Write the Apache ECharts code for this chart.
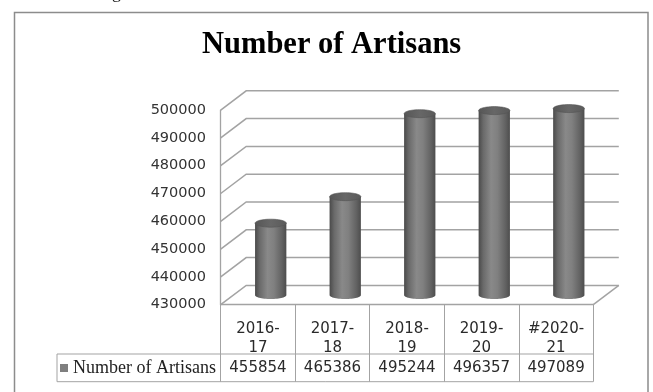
<!DOCTYPE html>
<html>
<head>
<meta charset="utf-8">
<script src="https://cdn.jsdelivr.net/npm/echarts@6/dist/echarts.min.js"></script>
<style>
html,body{margin:0;padding:0;background:#fff;}
#chart{width:653px;height:392px;}
</style>
</head>
<body>
<div id="chart"></div>
<script>
// ---- data ----
const titleText = "Number of Artisans";
const seriesName = "Number of Artisans";
const categories = ["2016-17", "2017-18", "2018-19", "2019-20", "#2020-21"];
const artisans = [455854, 465386, 495244, 496357, 497089];
const yTicks = [430000, 440000, 450000, 460000, 470000, 480000, 490000, 500000];
const yMin = 430000, yMax = 500000, yStep = 10000;

// ---- layout ----
const W = 653, H = 392;
const PLOT = { left: 220.7, right: 593.3, top: 110.1, bottom: 304.7 };
const DX = 25.5, DY = -19.3;          // depth offset of the back wall
const ROW_DIV = 354, TABLE_BOTTOM = 381.7, LEGEND_LEFT = 57;
const LINE_COLOR = '#a3a3a3';

function ellipseArc(cx, cy, rx, ry, a0, a1, n) {
  const pts = [];
  for (let k = 0; k <= n; k++) {
    const a = a0 + (a1 - a0) * k / n;
    pts.push([cx + rx * Math.cos(a), cy + ry * Math.sin(a)]);
  }
  return pts;
}

function renderWall(params, api) {
  const v = api.value(1);
  const p = api.coord([0, v]);
  const band = api.size([1, 0])[0];
  const xl = p[0] - band / 2;
  const xr = xl + band * categories.length;
  const children = [{
    type: 'polyline',
    shape: { points: [[xl, p[1]], [xl + DX, p[1] + DY], [xr + DX, p[1] + DY]] },
    style: { fill: null, stroke: LINE_COLOR, lineWidth: 1.5 }
  }];
  if (v === yMin) {
    children.push({
      type: 'line',
      shape: { x1: xr, y1: p[1], x2: xr + DX, y2: p[1] + DY },
      style: { stroke: LINE_COLOR, lineWidth: 1.5 }
    });
  }
  return { type: 'group', children: children };
}

function renderCylinder(params, api) {
  const i = api.value(0), v = api.value(1);
  const top = api.coord([i, v]);
  const base = api.coord([i, yMin]);
  const band = api.size([1, 0])[0];
  const cx = top[0] + DX / 2;
  const rx = band * 0.21, ry = 4;
  const yt = top[1] + DY / 2, yb = base[1] + DY / 2;
  const bodyPts = [[cx - rx, yt]].concat(ellipseArc(cx, yb, rx, ry, Math.PI, 0, 30)).concat([[cx + rx, yt]]);
  const topPts = ellipseArc(cx, yt, rx, ry, 0, Math.PI * 2, 48);
  return {
    type: 'group',
    children: [
      {
        type: 'polygon',
        shape: { points: bodyPts },
        style: {
          fill: {
            type: 'linear', x: 0, y: 0, x2: 1, y2: 0,
            colorStops: [
              { offset: 0, color: '#4a4a4a' },
              { offset: 0.15, color: '#6a6a6a' },
              { offset: 0.4, color: '#898989' },
              { offset: 0.6, color: '#808080' },
              { offset: 0.85, color: '#636363' },
              { offset: 1, color: '#4d4d4d' }
            ]
          },
          stroke: null
        }
      },
      {
        type: 'polygon',
        shape: { points: topPts },
        style: {
          fill: {
            type: 'linear', x: 0, y: 0, x2: 1, y2: 0,
            colorStops: [
              { offset: 0, color: '#565656' },
              { offset: 0.5, color: '#676767' },
              { offset: 1, color: '#5a5a5a' }
            ]
          },
          stroke: '#545454', lineWidth: 0.6
        }
      }
    ]
  };
}

function renderTableValue(params, api) {
  const i = api.value(0);
  const p = api.coord([i, yMin]);
  return {
    type: 'text',
    x: p[0],
    y: (ROW_DIV + TABLE_BOTTOM) / 2,
    style: {
      text: String(api.value(1)),
      align: 'center', verticalAlign: 'middle',
      fontFamily: 'DejaVu Sans', fontSize: 15, fill: '#2a2a2a'
    }
  };
}

const chart = echarts.init(document.getElementById('chart'), null, { renderer: 'canvas' });
chart.setOption({
  animation: false,
  backgroundColor: '#ffffff',
  title: {
    text: titleText,
    left: 202, top: 29.5, padding: 0,
    textStyle: { fontFamily: 'Liberation Serif', fontWeight: 'bold', fontSize: 30.5, color: '#000' }
  },
  legend: {
    data: [seriesName],
    left: 60, top: 359, padding: 0,
    icon: 'rect', itemWidth: 8, itemHeight: 8,
    selectedMode: false,
    textStyle: { fontFamily: 'Liberation Serif', fontSize: 18, color: '#222' }
  },
  grid: {
    left: PLOT.left, right: W - PLOT.right, top: PLOT.top, bottom: H - PLOT.bottom,
    containLabel: false
  },
  xAxis: {
    type: 'category',
    data: categories,
    boundaryGap: true,
    axisLine: { show: true, lineStyle: { color: LINE_COLOR, width: 1.3 } },
    axisTick: { show: true, length: TABLE_BOTTOM - PLOT.bottom, lineStyle: { color: LINE_COLOR, width: 1 } },
    axisLabel: {
      interval: 0,
      formatter: function (s) { return s.replace('-', '-\n'); },
      margin: 15, lineHeight: 19,
      fontFamily: 'DejaVu Sans', fontSize: 15, color: '#2a2a2a'
    },
    splitLine: { show: false }
  },
  yAxis: {
    type: 'value',
    min: yMin, max: yMax, interval: yStep,
    axisLine: { show: true, lineStyle: { color: LINE_COLOR, width: 1.3 } },
    axisTick: { show: false },
    splitLine: { show: false },
    axisLabel: {
      margin: 14.7,
      formatter: function (v) { return yTicks.indexOf(v) >= 0 ? String(v) : ''; },
      fontFamily: 'DejaVu Sans', fontSize: 14.5, color: '#333'
    }
  },
  series: [
    {
      type: 'custom', name: 'wall', silent: true, clip: false, z: 1,
      renderItem: renderWall,
      data: yTicks.map(function (v) { return [0, v]; })
    },
    {
      type: 'custom', name: seriesName, silent: true, clip: false, z: 3,
      itemStyle: { color: '#7f7f7f' },
      renderItem: renderCylinder,
      data: artisans.map(function (v, i) { return [i, v]; })
    },
    {
      type: 'custom', name: 'tableValues', silent: true, clip: false, z: 3,
      renderItem: renderTableValue,
      data: artisans.map(function (v, i) { return [i, v]; })
    }
  ],
  graphic: [
    {
      type: 'rect', silent: true, z: 10,
      shape: { x: 14.5, y: 12.5, width: 633.5, height: 400 },
      style: { fill: null, stroke: '#8c8c8c', lineWidth: 1.5 }
    },
    {
      type: 'line', silent: true, z: 10,
      shape: { x1: LEGEND_LEFT, y1: ROW_DIV, x2: PLOT.right, y2: ROW_DIV },
      style: { stroke: LINE_COLOR, lineWidth: 1 }
    },
    {
      type: 'line', silent: true, z: 10,
      shape: { x1: LEGEND_LEFT, y1: TABLE_BOTTOM, x2: PLOT.right, y2: TABLE_BOTTOM },
      style: { stroke: LINE_COLOR, lineWidth: 1 }
    },
    {
      type: 'line', silent: true, z: 10,
      shape: { x1: LEGEND_LEFT, y1: ROW_DIV, x2: LEGEND_LEFT, y2: TABLE_BOTTOM },
      style: { stroke: LINE_COLOR, lineWidth: 1 }
    },
    {
      type: 'text', silent: true, z: 10,
      x: 112, y: -16,
      style: { text: 'g', fontFamily: 'Liberation Serif', fontSize: 18, fill: '#222' }
    }
  ]
});
</script>
</body>
</html>
